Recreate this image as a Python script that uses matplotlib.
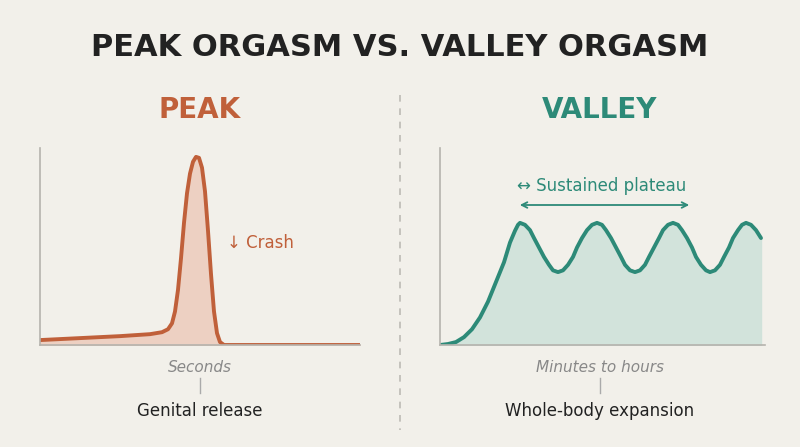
import matplotlib.pyplot as plt
from matplotlib.lines import Line2D
from matplotlib.patches import FancyArrowPatch

W, H = 800, 447
BG = "#f2f0ea"
PEAK_C = "#c0603a"
PEAK_F = "#ecc9b9"
VAL_C = "#2d8a78"
VAL_F = "#cfe2da"

# peak curve (x in axis pixels, y as fraction of axis height)
peak_x = [0, 40, 80, 110, 122, 128, 132, 135, 138, 141, 144, 147, 150, 153, 156, 159, 162, 165, 168, 171, 174, 177,
          180, 184, 320]
peak_y = [0.025, 0.035, 0.045, 0.055, 0.065, 0.08, 0.11, 0.17, 0.28, 0.44, 0.62, 0.77, 0.87, 0.93, 0.955, 0.95, 0.9,
          0.78, 0.58, 0.36, 0.17, 0.06, 0.015, 0, 0]

# valley curve
valley_x = [0, 8, 16, 24, 32, 40, 48, 56, 64, 70, 75, 78,
            80, 85, 90, 94, 99, 104, 109, 113, 118, 123, 128, 133, 137, 142, 147, 152,
            157, 162, 166, 171, 176, 181, 185, 190, 195, 200, 205, 209, 214, 219, 223, 228,
            233, 238, 242, 247, 252, 256, 261, 266, 270, 275, 280, 284, 289, 293, 298, 302,
            306, 311, 316, 321]
valley_y = [0.0, 0.005, 0.015, 0.04, 0.08, 0.14, 0.22, 0.32, 0.42, 0.52, 0.58, 0.61,
            0.62, 0.61, 0.583, 0.543, 0.495, 0.447, 0.407, 0.379, 0.37, 0.379, 0.407, 0.447, 0.495, 0.543, 0.583, 0.61,
            0.62, 0.61, 0.583, 0.543, 0.495, 0.447, 0.407, 0.379, 0.37, 0.379, 0.407, 0.447, 0.495, 0.543, 0.583, 0.61,
            0.62, 0.61, 0.583, 0.543, 0.495, 0.447, 0.407, 0.379, 0.37, 0.379, 0.407, 0.447, 0.495, 0.543, 0.583, 0.61,
            0.62, 0.61, 0.583, 0.543]


def fx(px):
    return px / W


def fy(py):
    return 1 - py / H


fig = plt.figure(figsize=(8, 4.47), dpi=100, facecolor=BG)

ax_top, ax_bot = 148, 345


def make_ax(x0, x1):
    ax = fig.add_axes([fx(x0), fy(ax_bot), fx(x1 - x0), (ax_bot - ax_top) / H])
    ax.set_facecolor(BG)
    ax.set_xlim(0, x1 - x0)
    ax.set_ylim(0, 1)
    for s in ["top", "right"]:
        ax.spines[s].set_visible(False)
    for s in ["left", "bottom"]:
        ax.spines[s].set_color("#b5b3ad")
        ax.spines[s].set_linewidth(1.2)
    ax.set_xticks([])
    ax.set_yticks([])
    return ax


ax1 = make_ax(40, 360)
ax1.fill_between(peak_x, peak_y, color=PEAK_F, alpha=0.8)
ax1.plot(peak_x, peak_y, color=PEAK_C, lw=2.8, solid_capstyle="round", solid_joinstyle="round")

ax2 = make_ax(440, 765)
ax2.fill_between(valley_x, valley_y, color=VAL_F, alpha=0.9)
ax2.plot(valley_x, valley_y, color=VAL_C, lw=2.8, solid_capstyle="round", solid_joinstyle="round")

fig.text(0.5, fy(47), "PEAK ORGASM VS. VALLEY ORGASM", ha="center", va="center",
         fontsize=22, fontweight="heavy", color="#222222")
fig.text(fx(200), fy(110), "PEAK", ha="center", va="center", fontsize=20, fontweight="bold", color=PEAK_C)
fig.text(fx(600), fy(110), "VALLEY", ha="center", va="center", fontsize=20, fontweight="bold", color=VAL_C)

fig.text(fx(227), fy(243), "↓ Crash", ha="left", va="center", fontsize=12, color=PEAK_C)
fig.text(fx(517), fy(186), "↔ Sustained plateau", ha="left", va="center", fontsize=12, color=VAL_C)
fig.add_artist(FancyArrowPatch(
    (fx(517), fy(205)), (fx(692), fy(205)), transform=fig.transFigure,
    arrowstyle="<->", mutation_scale=10, color=VAL_C, lw=1.3))

for cx, lab1, lab2 in [(200, "Seconds", "Genital release"), (600, "Minutes to hours", "Whole-body expansion")]:
    fig.text(fx(cx), fy(367), lab1, ha="center", va="center", fontsize=11, style="italic", color="#888888")
    fig.add_artist(Line2D([fx(cx), fx(cx)], [fy(378), fy(393)], color="#aaaaaa", lw=1))
    fig.text(fx(cx), fy(411), lab2, ha="center", va="center", fontsize=12, color="#222222")

fig.add_artist(Line2D([fx(400), fx(400)], [fy(95), fy(430)], color="#bdbbb5", lw=1.2, ls=(0, (4, 4))))

fig.savefig("out.png", dpi=100, facecolor=BG)
